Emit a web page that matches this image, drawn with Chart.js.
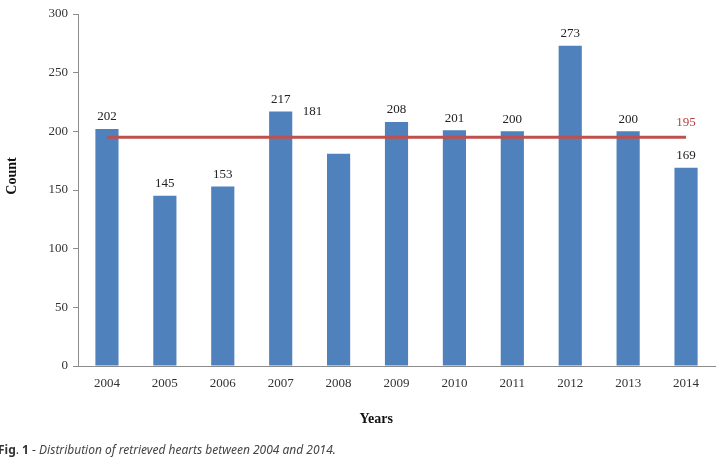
<!DOCTYPE html>
<html lang="en">
<head>
    <meta charset="UTF-8">
    <title>Distribution of retrieved hearts</title>
    <script src="https://cdn.jsdelivr.net/npm/chart.js"></script>
    <style>
        body {
            margin: 0;
            padding: 0;
            background: #fff;
        }
        .wrap {
            position: relative;
            width: 719px;
            height: 465px;
            overflow: hidden;
        }
        .caption {
            position: absolute;
            left: -2px;
            top: 441px;
            font-family: "Noto Sans", sans-serif;
            font-size: 12px;
            color: #333;
            white-space: nowrap;
        }
        .caption b { font-style: normal; }
        .caption i { color: #444; }
    </style>
</head>
<body>
    <div class="wrap">
        <canvas id="chart" width="719" height="465"></canvas>
        <div class="caption"><b>Fig</b>. <b>1</b> - <i>Distribution of retrieved hearts between 2004 and 2014.</i></div>
    </div>
    <script>
        const years = ['2004', '2005', '2006', '2007', '2008', '2009', '2010', '2011', '2012', '2013', '2014'];
        const counts = [202, 145, 153, 217, 181, 208, 201, 200, 273, 200, 169];
        const average = [195, 195, 195, 195, 195, 195, 195, 195, 195, 195, 195];
        const yTicks = [0, 50, 100, 150, 200, 250, 300];

        const serif = '"Liberation Serif", "Times New Roman", serif';

        // value labels above bars + the average label at the end of the line
        const labelPlugin = {
            id: 'valueLabels',
            afterDatasetsDraw(chart) {
                const ctx = chart.ctx;
                const bars = chart.getDatasetMeta(0).data;
                const line = chart.getDatasetMeta(1).data;
                ctx.save();
                ctx.font = '13px ' + serif;
                ctx.textAlign = 'center';
                ctx.textBaseline = 'middle';
                ctx.fillStyle = '#222';
                bars.forEach((bar, i) => {
                    let dx = 0, dy = -12;
                    if (i === 4) { dx = -26; dy = -42; } // 181 sits off to the left in the original
                    ctx.fillText(String(counts[i]), bar.x + dx, bar.y + dy);
                });
                const last = line[line.length - 1];
                ctx.fillStyle = '#b5403d';
                ctx.fillText(String(average[average.length - 1]), last.x, last.y - 15);

                // axis titles
                const area = chart.chartArea;
                ctx.font = 'bold 14px ' + serif;
                ctx.fillStyle = '#111';
                ctx.fillText('Years', area.left + (area.right - area.left) * 0.468, 419);
                ctx.translate(12, 176);
                ctx.rotate(-Math.PI / 2);
                ctx.fillText('Count', 0, 0);
                ctx.restore();
            }
        };

        const ctx = document.getElementById('chart').getContext('2d');
        new Chart(ctx, {
            data: {
                labels: years,
                datasets: [{
                    type: 'bar',
                    data: counts,
                    backgroundColor: '#4f81bd',
                    barPercentage: 0.4,
                    categoryPercentage: 1,
                    order: 2
                }, {
                    type: 'line',
                    data: average,
                    borderColor: '#c0504d',
                    borderWidth: 3,
                    pointRadius: 0,
                    fill: false,
                    order: 1
                }]
            },
            options: {
                responsive: false,
                animation: false,
                layout: { padding: { top: 14, right: 4, left: 0, bottom: 0 } },
                plugins: {
                    legend: { display: false },
                    tooltip: { enabled: false }
                },
                scales: {
                    x: {
                        grid: { display: false },
                        border: { display: true, color: '#8c8c8c', width: 1 },
                        ticks: {
                            padding: 2,
                            color: '#333',
                            font: { family: serif, size: 13 }
                        },
                        afterFit(scale) { scale.height = 99; }
                    },
                    y: {
                        min: 0,
                        max: 300,
                        afterBuildTicks(scale) {
                            scale.ticks = yTicks.map(v => ({ value: v }));
                        },
                        grid: {
                            display: true,
                            drawOnChartArea: false,
                            drawTicks: true,
                            tickLength: 5,
                            color: '#8c8c8c'
                        },
                        border: { display: true, color: '#8c8c8c', width: 1 },
                        ticks: {
                            padding: 5,
                            color: '#333',
                            font: { family: serif, size: 13 }
                        },
                        afterFit(scale) { scale.width = 78; }
                    }
                }
            },
            plugins: [labelPlugin]
        });
    </script>
</body>
</html>
